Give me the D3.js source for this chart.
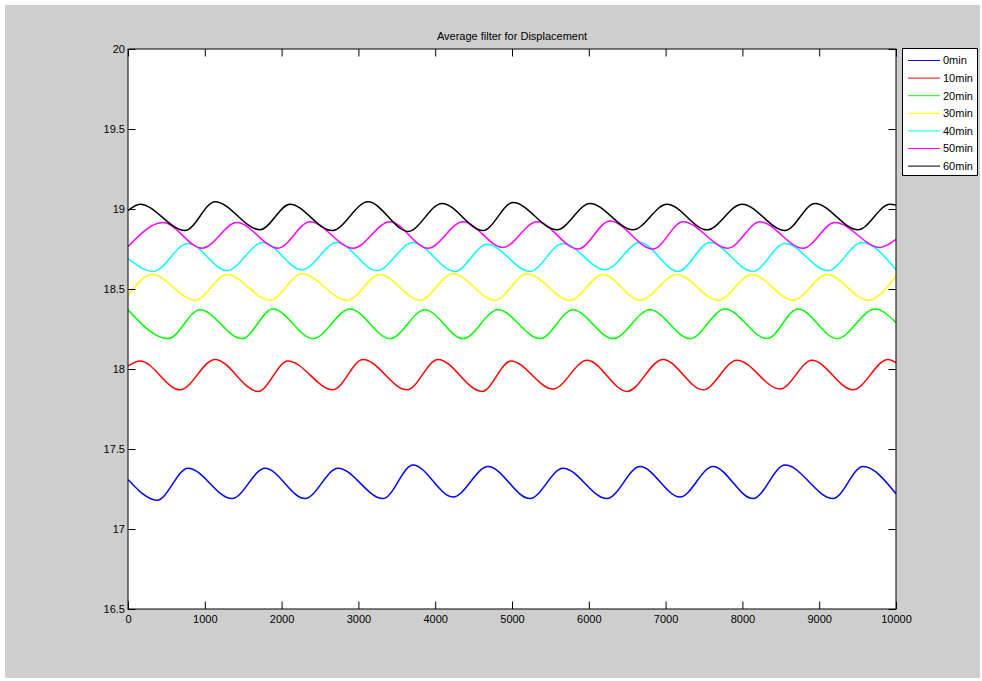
<!DOCTYPE html>
<html><head><meta charset="utf-8">
<script src="https://cdn.jsdelivr.net/npm/d3@7"></script>
<style>body{margin:0;background:#fff}</style>
</head><body>
<svg id="c" width="982" height="681"></svg>
<script>
const xTicks = [0,1000,2000,3000,4000,5000,6000,7000,8000,9000,10000];
const yTicks = [16.5,17,17.5,18,18.5,19,19.5,20];
const seriesNames = ["0min","10min","20min","30min","40min","50min","60min"];
const seriesColors = ["#0000ff","#ff0000","#00ff00","#ffff00","#00ffff","#ff00ff","#000000"];

const s0min = [[0,17.31],[378,17.18],[781,17.38],[1354,17.19],[1784,17.38],[2305,17.19],[2734,17.38],[3320,17.19],[3711,17.40],[4232,17.20],[4688,17.39],[5234,17.19],[5664,17.38],[6237,17.19],[6667,17.39],[7188,17.20],[7617,17.39],[8138,17.19],[8555,17.40],[9180,17.19],[9570,17.39],[10000,17.22]];
const s10min = [[0,18.02],[156,18.05],[677,17.87],[1133,18.06],[1693,17.86],[2083,18.05],[2669,17.87],[3060,18.06],[3633,17.87],[4036,18.06],[4609,17.86],[4987,18.05],[5534,17.875],[5977,18.055],[6497,17.86],[6966,18.06],[7487,17.87],[7930,18.055],[8490,17.875],[8906,18.055],[9440,17.87],[9896,18.06],[10000,18.04]];
const s20min = [[0,18.37],[521,18.19],[938,18.37],[1484,18.19],[1888,18.375],[2409,18.19],[2891,18.375],[3411,18.19],[3867,18.37],[4362,18.19],[4818,18.37],[5365,18.19],[5794,18.37],[6315,18.19],[6797,18.37],[7318,18.19],[7773,18.375],[8320,18.19],[8724,18.375],[9232,18.19],[9727,18.375],[10000,18.29]];
const s30min = [[0,18.46],[313,18.59],[872,18.43],[1289,18.59],[1849,18.43],[2266,18.595],[2852,18.43],[3281,18.59],[3802,18.43],[4232,18.595],[4779,18.43],[5195,18.595],[5755,18.43],[6185,18.59],[6667,18.43],[7148,18.59],[7682,18.43],[8125,18.59],[8659,18.43],[9102,18.59],[9635,18.43],[10000,18.58]];
const s40min = [[0,18.69],[326,18.61],[781,18.785],[1289,18.615],[1758,18.79],[2266,18.62],[2721,18.79],[3242,18.615],[3711,18.79],[4258,18.61],[4674,18.78],[5234,18.61],[5664,18.785],[6211,18.62],[6667,18.79],[7161,18.61],[7578,18.79],[8138,18.61],[8555,18.785],[9115,18.615],[9557,18.79],[10000,18.62]];
const s50min = [[0,18.765],[456,18.915],[964,18.755],[1419,18.915],[1953,18.755],[2370,18.92],[2930,18.755],[3411,18.92],[3906,18.755],[4362,18.92],[4883,18.76],[5326,18.92],[5859,18.75],[6276,18.925],[6836,18.75],[7227,18.92],[7813,18.755],[8229,18.92],[8789,18.755],[9206,18.915],[9792,18.76],[10000,18.81]];
const s60min = [[0,18.99],[156,19.03],[742,18.865],[1133,19.045],[1719,18.87],[2109,19.03],[2656,18.865],[3125,19.045],[3646,18.86],[4089,19.035],[4622,18.865],[5013,19.04],[5586,18.87],[6016,19.035],[6576,18.87],[7018,19.03],[7539,18.87],[7995,19.03],[8555,18.865],[8945,19.035],[9505,18.87],[9922,19.03],[10000,19.025]];
const seriesData = [s0min,s10min,s20min,s30min,s40min,s50min,s60min];

const FONT = '"Liberation Sans", Arial, sans-serif';
const svg = d3.select("#c");
const L=128, R=896, T=49, B=609;
const x = d3.scaleLinear().domain([0,10000]).range([L,R]);
const y = d3.scaleLinear().domain([16.5,20]).range([B,T]);

svg.append("rect").attr("x",5).attr("y",5).attr("width",975).attr("height",673).attr("fill","#cecece");
svg.append("rect").attr("x",L).attr("y",T).attr("width",R-L).attr("height",B-T).attr("fill","#fff");

svg.append("clipPath").attr("id","clip").append("rect").attr("x",L).attr("y",T).attr("width",R-L).attr("height",B-T);

const line = d3.line().x(d=>x(d[0])).y(d=>y(d[1])).curve(d3.curveMonotoneX);
const lg = svg.append("g").attr("clip-path","url(#clip)");
seriesData.forEach((s,i)=>{
  lg.append("path").attr("d",line(s)).attr("fill","none").attr("stroke",seriesColors[i]).attr("stroke-width",1.5);
});

const tk = 7.5;
function styleAxis(g){
  g.select(".domain").remove();
  g.selectAll(".tick line").attr("stroke","#000");
  g.selectAll("text").attr("font-family",FONT).attr("font-size","11px").attr("fill","#000");
}
svg.append("g").attr("transform",`translate(0,${B})`).call(d3.axisBottom(x).tickValues(xTicks).tickSize(-tk).tickPadding(6).tickFormat(d=>d)).call(styleAxis);
svg.append("g").attr("transform",`translate(${L},0)`).call(d3.axisLeft(y).tickValues(yTicks).tickSize(-tk).tickPadding(3).tickFormat(d=>d)).call(styleAxis);
svg.append("g").attr("transform",`translate(0,${T})`).call(d3.axisTop(x).tickValues(xTicks).tickSize(-tk).tickFormat("")).call(styleAxis);
svg.append("g").attr("transform",`translate(${R},0)`).call(d3.axisRight(y).tickValues(yTicks).tickSize(-tk).tickFormat("")).call(styleAxis);

svg.append("rect").attr("x",L).attr("y",T).attr("width",R-L).attr("height",B-T).attr("fill","none").attr("stroke","#000").attr("stroke-width",1);

svg.append("text").attr("x",(L+R)/2).attr("y",40).attr("text-anchor","middle").attr("font-family",FONT).attr("font-size","11px").attr("fill","#000").text("Average filter for Displacement");

const leg = svg.append("g");
leg.append("rect").attr("x",902.5).attr("y",48.5).attr("width",75).attr("height",127).attr("fill","#fff").attr("stroke","#000");
seriesNames.forEach((n,i)=>{
  const yy = 60.5 + i*17.6;
  leg.append("line").attr("x1",908).attr("x2",940).attr("y1",yy).attr("y2",yy).attr("stroke",seriesColors[i]).attr("stroke-width",1);
  leg.append("text").attr("x",943).attr("y",yy).attr("dy","0.35em").attr("font-family",FONT).attr("font-size","11px").attr("fill","#000").text(n);
});
</script>
</body></html>
